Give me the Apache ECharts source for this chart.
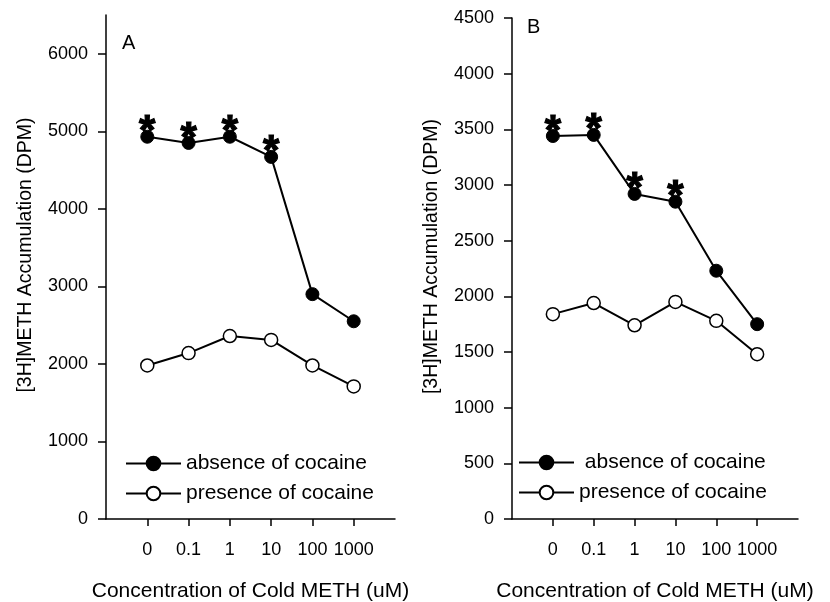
<!DOCTYPE html>
<html>
<head>
<meta charset="utf-8">
<script src="https://cdn.jsdelivr.net/npm/echarts@6/dist/echarts.min.js"></script>
<style>
html,body{margin:0;padding:0;background:#fff;}
#c{width:830px;height:602px;}
</style>
</head>
<body>
<div id="c"></div>
<script>
// ---- data ----
var concLabels = ['0', '0.1', '1', '10', '100', '1000'];
var absenceA = [4930, 4850, 4930, 4670, 2900, 2550];
var presenceA = [1980, 2140, 2360, 2310, 1980, 1710];
var absenceB = [3440, 3450, 2920, 2850, 2230, 1750];
var presenceB = [1840, 1940, 1740, 1950, 1780, 1480];
var significantA = [1, 1, 1, 1, 0, 0];
var significantB = [1, 1, 1, 1, 0, 0];
var yTicksA = [0, 1000, 2000, 3000, 4000, 5000, 6000];
var yTicksB = [0, 500, 1000, 1500, 2000, 2500, 3000, 3500, 4000, 4500];
var seriesNames = ['absence of cocaine', 'presence of cocaine'];
var xTitle = 'Concentration of Cold METH (uM)';
var yTitle = '[3H]METH Accumulation (DPM)';
var panelLetters = ['A', 'B'];

var FONT = '"Liberation Sans", Arial, sans-serif';
var idx = concLabels.map(function (_, i) { return i; });

function pts(vals, sig) {
  return vals.map(function (v, i) {
    var d = { value: [i, v] };
    if (sig && sig[i]) {
      d.label = {
        show: true, position: 'inside', formatter: '*',
        fontSize: 42, fontWeight: 'bold', color: '#000',
        textBorderColor: '#000', textBorderWidth: 1.2,
        fontFamily: FONT, offset: [0, -4]
      };
    }
    return d;
  });
}

function xAxis(gi) {
  return {
    type: 'value', gridIndex: gi, min: -1, max: 6,
    name: xTitle, nameLocation: 'middle', nameGap: 62,
    nameTextStyle: { fontSize: 21, color: '#000', fontFamily: FONT },
    axisLine: { show: true, onZero: false, lineStyle: { color: '#000', width: 1.5 } },
    axisTick: { show: true, customValues: idx, length: 7, lineStyle: { color: '#000', width: 1.5 } },
    axisLabel: { customValues: idx, margin: 22, fontSize: 18, color: '#000', fontFamily: FONT,
      formatter: function (v) { return concLabels[v]; } },
    splitLine: { show: false }
  };
}
function yAxis(gi, max, interval, ticks) {
  return {
    type: 'value', gridIndex: gi, min: 0, max: max, interval: interval,
    name: yTitle, nameLocation: 'middle', nameGap: 70, nameRotate: 90,
    nameTextStyle: { fontSize: 19.5, color: '#000', fontFamily: FONT, padding: [0, 0, 0, 24] },
    axisLine: { show: true, onZero: false, lineStyle: { color: '#000', width: 1.5 } },
    axisTick: { show: true, customValues: ticks, length: 8, lineStyle: { color: '#000', width: 1.5 } },
    axisLabel: { customValues: ticks, margin: 18, fontSize: 18, color: '#000', fontFamily: FONT,
      formatter: function (v) { return String(v); } },
    splitLine: { show: false }
  };
}
function filled(name, data, xi) {
  return {
    name: name, type: 'line', xAxisIndex: xi, yAxisIndex: xi, data: data,
    symbol: 'circle', symbolSize: 13,
    itemStyle: { color: '#000', borderColor: '#000', borderWidth: 1 },
    lineStyle: { color: '#000', width: 2 }, z: 3, animation: false
  };
}
function open(name, data, xi) {
  return {
    name: name, type: 'line', xAxisIndex: xi, yAxisIndex: xi, data: data,
    symbol: 'circle', symbolSize: 13,
    itemStyle: { color: '#fff', borderColor: '#000', borderWidth: 1.5 },
    lineStyle: { color: '#000', width: 2 }, z: 2, animation: false
  };
}
function legend(left, top, lead) {
  return {
    data: seriesNames, orient: 'vertical', left: left, top: top, padding: 0,
    itemWidth: 55, itemHeight: 17, itemGap: 9, selectedMode: false,
    formatter: function (n) { return (n === seriesNames[0] ? lead : '') + n; },
    textStyle: { fontSize: 21, color: '#000', fontFamily: FONT }
  };
}

var chart = echarts.init(document.getElementById('c'), null, { renderer: 'canvas' });
chart.setOption({
  backgroundColor: '#fff',
  animation: false,
  title: [
    { text: panelLetters[0], left: 117, top: 28, textStyle: { fontSize: 20, fontWeight: 'normal', color: '#000', fontFamily: FONT } },
    { text: panelLetters[1], left: 522, top: 12, textStyle: { fontSize: 20, fontWeight: 'normal', color: '#000', fontFamily: FONT } }
  ],
  grid: [
    { left: 106, top: 15, width: 289, bottom: 83, containLabel: false, outerBoundsMode: 'none' },
    { left: 512, top: 18, width: 286, bottom: 83, containLabel: false, outerBoundsMode: 'none' }
  ],
  xAxis: [xAxis(0), xAxis(1)],
  yAxis: [yAxis(0, 6500, 1000, yTicksA), yAxis(1, 4500, 500, yTicksB)],
  legend: [legend(125, 453, ''), legend(518, 452, ' ')],
  series: [
    filled(seriesNames[0], pts(absenceA, significantA), 0),
    open(seriesNames[1], pts(presenceA), 0),
    filled(seriesNames[0], pts(absenceB, significantB), 1),
    open(seriesNames[1], pts(presenceB), 1)
  ]
});
</script>
</body>
</html>
